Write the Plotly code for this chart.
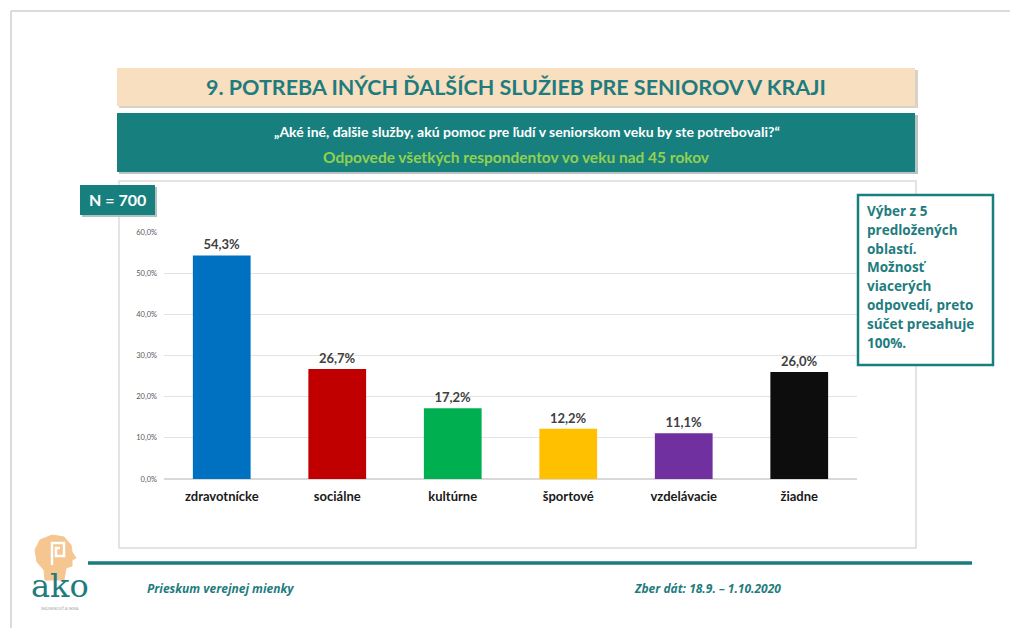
import plotly.graph_objects as go

W, H = 1010, 628

categories = ["zdravotnícke", "sociálne", "kultúrne", "športové", "vzdelávacie", "žiadne"]
values = [54.3, 26.7, 17.2, 12.2, 11.1, 26.0]
bar_colors = ["#0070C0", "#C00000", "#00B050", "#FFC000", "#7030A0", "#0D0D0D"]
y_ticks = [0, 10, 20, 30, 40, 50, 60]
y_ticktext = [f"{v:.1f}%".replace(".", ",") for v in y_ticks]

title = "9. POTREBA INÝCH ĎALŠÍCH SLUŽIEB PRE SENIOROV V KRAJI"
question = "„Aké iné, ďalšie služby, akú pomoc pre ľudí v seniorskom veku by ste potrebovali?“"
subtitle = "Odpovede všetkých respondentov vo veku nad 45 rokov"
n_label = "N = 700"
note_lines = ["Výber z 5", "predložených", "oblastí.", "Možnosť", "viacerých",
              "odpovedí, preto", "súčet presahuje", "100%."]
footer_left = "Prieskum verejnej mienky"
footer_right = "Zber dát: 18.9. – 1.10.2020"

TEAL = "#17807F"
TEAL_TXT = "#1F7C7E"
FONT = "Lato"
FONT2 = "Open Sans"


def px(x):
    return x / W


def py(y):
    return 1 - y / H


fig = go.Figure()
fig.add_trace(go.Bar(
    x=categories, y=values,
    marker=dict(color=bar_colors, line=dict(width=0)),
    width=0.5,
    texttemplate="%{y:.1f}%", textposition="outside",
    textfont=dict(family=FONT, size=13, color="#404040", weight="bold"),
    cliponaxis=False, showlegend=False,
))

shapes = []


def rect(x0, y0, x1, y1, fill, line_color=None, lw=0, layer="below"):
    shapes.append(dict(type="rect", xref="paper", yref="paper",
                       x0=px(x0), x1=px(x1), y0=py(y1), y1=py(y0),
                       fillcolor=fill, layer=layer,
                       line=dict(color=line_color or fill, width=lw)))


def line(x0, y0, x1, y1, color, w):
    shapes.append(dict(type="line", xref="paper", yref="paper",
                       x0=px(x0), x1=px(x1), y0=py(y0), y1=py(y1),
                       line=dict(color=color, width=w)))


# slide border
line(11, 11, 1010, 11, "#CFCFCF", 1.5)
line(11, 11, 11, 628, "#CFCFCF", 1.5)
# chart frame
rect(119, 181, 916, 548, "rgba(0,0,0,0)", "#DCDCDC", 1.5)
# title box with shadow
rect(119, 70, 918, 108, "#D9D2C8")
rect(117, 68, 915, 106, "#F8DFC0")
# teal box with shadow
rect(119, 115, 918, 174, "#B8C4C4")
rect(117, 113, 915, 172, TEAL)
# N box
rect(82, 187, 157, 217, "#AFC3C3")
rect(80, 185, 155, 215, TEAL)
# note box
rect(858, 195, 993, 365, "white", TEAL, 2.5, layer="above")
# footer line
line(88, 563, 972, 563, "#1B7A80", 3.5)

# logo head (decorative)
head = [(45, 580), (44, 570), (37, 562), (35, 550), (40, 540), (52, 535), (64, 537),
        (71, 545), (72, 552), (76, 558), (72, 560), (72, 566), (66, 568), (64, 580)]
path = "M " + " L ".join(f"{px(x)},{py(y)}" for x, y in head) + " Z"
shapes.append(dict(type="path", xref="paper", yref="paper", path=path,
                   fillcolor="#F6C690", line=dict(color="#F6C690", width=1)))
spiral = [(52, 565), (52, 543), (64, 543), (64, 556), (56, 556), (56, 548), (60, 548)]
spath = "M " + " L ".join(f"{px(x)},{py(y)}" for x, y in spiral)
shapes.append(dict(type="path", xref="paper", yref="paper", path=spath,
                   line=dict(color="white", width=2.5)))

annotations = []


def text(x, y, s, size, color, xanchor="center", bold=True, italic=False, family=FONT):
    annotations.append(dict(xref="paper", yref="paper", x=px(x), y=py(y), text=s,
                            showarrow=False, xanchor=xanchor, yanchor="middle",
                            font=dict(family=family, size=size, color=color,
                                      weight="bold" if bold else "normal",
                                      style="italic" if italic else "normal")))


text(516, 87, title, 21.5, TEAL_TXT)
text(527, 131, question, 14, "white")
text(516, 157, subtitle, 15.5, "#92D050")
text(117, 200, n_label, 16, "white")
for i, s in enumerate(note_lines):
    text(865, 211 + i * 18.8, s, 13.5, TEAL_TXT, xanchor="left", family=FONT2)
text(145, 588, footer_left, 12, TEAL_TXT, xanchor="left", italic=True, family=FONT2)
text(632, 588, footer_right, 12, TEAL_TXT, xanchor="left", italic=True, family=FONT2)
# logo text
text(60, 586, "ako", 32, "#1F7C7E", bold=False, family="DejaVu Serif")
text(60, 608, "SKÚSENOSŤ A SKRA", 4, "#9AA5A5", bold=False)

fig.update_layout(
    width=W, height=H,
    margin=dict(l=0, r=0, t=0, b=0, autoexpand=False),
    paper_bgcolor="white", plot_bgcolor="white",
    separators=", ",
    bargap=0.5,
    shapes=shapes, annotations=annotations,
    xaxis=dict(domain=[px(164), px(857)], showgrid=False, showline=False,
               ticks="", ticklabelstandoff=8, automargin=False,
               tickfont=dict(family=FONT, size=13, color="#1A1A1A", weight="bold")),
    yaxis=dict(domain=[py(479), py(232)], range=[0, 60], tickvals=y_ticks,
               ticktext=y_ticktext, showgrid=True, gridcolor="#E3E3E3",
               gridwidth=1, zeroline=True, zerolinecolor="#D9D9D9", showline=False,
               ticks="", tickfont=dict(family=FONT, size=7.5, color="#595959"),
               ticklabelstandoff=6, automargin=False),
)

fig.write_html("out.html", config={"displayModeBar": False},
               post_script="document.body.style.margin='0px';")
